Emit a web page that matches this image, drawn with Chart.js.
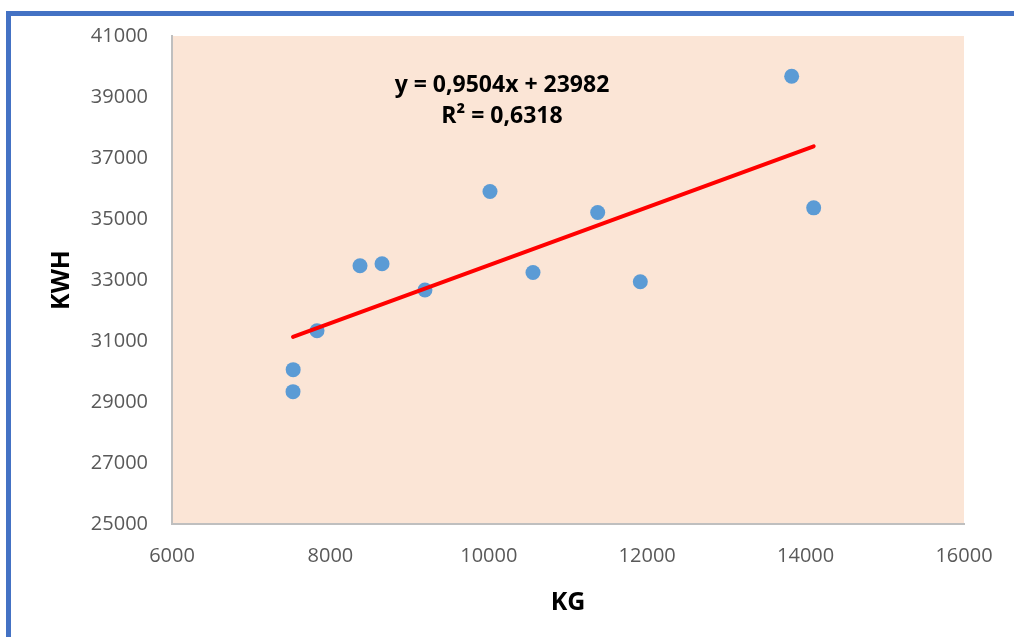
<!DOCTYPE html>
<html>
<head>
<meta charset="utf-8">
<script src="https://cdn.jsdelivr.net/npm/chart.js@4/dist/chart.umd.min.js"></script>
<style>
  html, body { margin: 0; padding: 0; background: #ffffff; }
  #wrap { position: relative; width: 1014px; height: 637px; overflow: hidden; }
  #frame {
    position: absolute; left: 6px; top: 11px; right: -10px; bottom: -10px;
    border-top: 5px solid #4472C4; border-left: 5px solid #4472C4;
  }
  canvas { position: absolute; left: 0; top: 0; }
</style>
</head>
<body>
<div id="wrap">
  <div id="frame"></div>
  <canvas id="chart_scatter" width="1014" height="637"></canvas>
</div>
<script>
// monthly production (kg) against consumption (kWh)
var kg  = [7528, 7530, 7831, 8374, 8652, 9194, 10015, 10558, 11375, 11913, 13824, 14102];
var kwh = [29340, 30060, 31337, 33466, 33532, 32670, 35900, 33247, 35212, 32942, 39680, 35366];

// linear trendline, as printed on the chart
var slope = 0.9504;
var intercept = 23982;
var equationText = 'y = 0,9504x + 23982';
var r2Text = 'R\u00B2 = 0,6318';

var xTicks = [6000, 8000, 10000, 12000, 14000, 16000];
var yTicks = [25000, 27000, 29000, 31000, 33000, 35000, 37000, 39000, 41000];

var points = [];
for (var i = 0; i < kg.length; i++) {
  points.push({x: kg[i], y: kwh[i]});
}

var xMin = Math.min.apply(null, kg);
var xMax = Math.max.apply(null, kg);
var trend = [
  {x: xMin, y: slope * xMin + intercept},
  {x: xMax, y: slope * xMax + intercept}
];

// fill the plot area and write the regression text
var plotArea = {
  id: 'plotArea',
  beforeDraw: function(chart) {
    var a = chart.chartArea;
    var ctx = chart.ctx;
    ctx.save();
    ctx.fillStyle = '#FBE5D6';
    ctx.fillRect(a.left, a.top, a.right - a.left, a.bottom - a.top);
    ctx.restore();
  },
  afterDraw: function(chart) {
    var a = chart.chartArea;
    var ctx = chart.ctx;
    ctx.save();
    ctx.fillStyle = '#000000';
    ctx.font = 'bold 23px "Open Sans"';
    ctx.textAlign = 'center';
    ctx.textBaseline = 'middle';
    ctx.fillText(equationText, a.left + 330, a.top + 49);
    ctx.fillText(r2Text, a.left + 330, a.top + 80);
    ctx.restore();
  }
};

var chartScatter = new Chart(document.getElementById('chart_scatter'), {
  type: 'scatter',
  data: {
    datasets: [{
      type: 'line',
      data: trend,
      borderColor: '#FF0000',
      borderWidth: 4,
      borderCapStyle: 'round',
      pointRadius: 0,
      fill: false,
      order: 0
    }, {
      data: points,
      backgroundColor: '#5B9BD5',
      borderColor: '#5B9BD5',
      borderWidth: 0,
      pointRadius: 7.5,
      order: 1
    }]
  },
  options: {
    responsive: false,
    animation: false,
    layout: {
      padding: {left: 47, top: 35, right: 50, bottom: 0}
    },
    plugins: {
      legend: {display: false},
      tooltip: {enabled: false}
    },
    scales: {
      x: {
        type: 'linear',
        min: 6000,
        max: 16000,
        afterBuildTicks: function(scale) {
          scale.ticks = xTicks.map(function(v) { return {value: v}; });
        },
        afterFit: function(scale) { scale.height = 113; },
        grid: {display: false, drawTicks: false},
        border: {display: true, color: '#BFBFBF', width: 2},
        ticks: {
          padding: 20,
          color: '#595959',
          font: {family: 'Open Sans', size: 20},
          maxRotation: 0,
          callback: function(v) { return String(v); }
        },
        title: {
          display: true,
          text: 'KG',
          color: '#000000',
          font: {family: 'Open Sans', size: 25, weight: 'bold'},
          padding: {top: 0, bottom: 19}
        }
      },
      y: {
        type: 'linear',
        min: 25000,
        max: 41000,
        afterBuildTicks: function(scale) {
          scale.ticks = yTicks.map(function(v) { return {value: v}; });
        },
        afterFit: function(scale) { scale.width = 125; },
        grid: {display: false, drawTicks: false},
        border: {display: true, color: '#BFBFBF', width: 2},
        ticks: {
          padding: 24,
          color: '#595959',
          font: {family: 'Open Sans', size: 20},
          callback: function(v) { return String(v); }
        },
        title: {
          display: true,
          text: 'KWH',
          color: '#000000',
          font: {family: 'Open Sans', size: 25, weight: 'bold'},
          padding: {top: 0, bottom: 0}
        }
      }
    }
  },
  plugins: [plotArea]
});
</script>
</body>
</html>
